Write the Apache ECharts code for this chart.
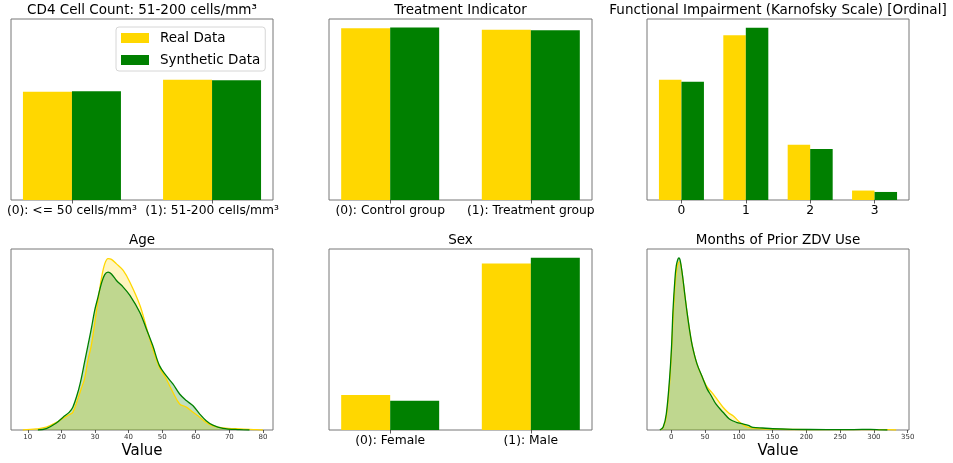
<!DOCTYPE html>
<html>
<head>
<meta charset="utf-8">
<script src="https://cdn.jsdelivr.net/npm/echarts@6/dist/echarts.min.js"></script>
<style>
  html, body { margin: 0; padding: 0; background: #fff; }
  #chart { width: 953px; height: 463px; }
</style>
</head>
<body>
<div id="chart"></div>
<script>
// Category labels
const cd4Labels = ['(0): <= 50 cells/mm³', '(1): 51-200 cells/mm³'];
const treatLabels = ['(0): Control group', '(1): Treatment group'];
const karnofskyLabels = ['0', '1', '2', '3'];
const sexLabels = ['(0): Female', '(1): Male'];

// Category proportions, real vs synthetic
const cd4Real = [0.474, 0.526];
const cd4Synth = [0.476, 0.524];
const treatReal = [0.502, 0.498];
const treatSynth = [0.504, 0.496];
const karnofskyReal = [0.344, 0.471, 0.158, 0.027];
const karnofskySynth = [0.338, 0.493, 0.146, 0.023];
const sexReal = [0.174, 0.826];
const sexSynth = [0.145, 0.855];

// Age density estimates: [age, density]
const ageReal = [
  [8.5, 0], [12.5, 0.0003], [15.5, 0.0008], [18.5, 0.0022], [20.5, 0.0034],
  [22.3, 0.0044], [23.4, 0.0051], [24.9, 0.0090], [25.9, 0.0119], [26.9, 0.0148],
  [27.9, 0.0201], [28.9, 0.0244], [29.9, 0.0307], [30.9, 0.0374], [31.9, 0.0437],
  [32.9, 0.0480], [33.9, 0.0495], [34.9, 0.0493], [36.4, 0.0480], [38.4, 0.0461],
  [40.4, 0.0427], [43.4, 0.0360], [45.3, 0.0297], [47.2, 0.0234], [49.2, 0.0181],
  [51.2, 0.0148], [53.2, 0.0109], [55.2, 0.0075], [57.2, 0.0066], [59.2, 0.0051],
  [61.2, 0.0037], [63.1, 0.0022], [65.1, 0.0012], [68.1, 0.0006], [73.1, 0.0003],
  [78.1, 0.0001], [80, 0]
];
const ageSynth = [
  [13, 0], [15.5, 0.0004], [18.5, 0.0020], [20.5, 0.0037], [22.3, 0.0051],
  [23.4, 0.0066], [24.9, 0.0109], [25.9, 0.0148], [26.9, 0.0196], [27.9, 0.0244],
  [28.9, 0.0292], [29.9, 0.0345], [30.9, 0.0384], [31.9, 0.0423], [32.9, 0.0449],
  [33.9, 0.0456], [34.9, 0.0451], [36.4, 0.0432], [38.4, 0.0413], [40.4, 0.0389],
  [43.4, 0.0339], [45.3, 0.0292], [47.2, 0.0244], [49.2, 0.0186], [51.2, 0.0157],
  [53.2, 0.0133], [55.2, 0.0104], [57.2, 0.0085], [59.2, 0.0070], [61.2, 0.0046],
  [63.1, 0.0027], [65.1, 0.0014], [68.1, 0.0005], [73.1, 0.0001], [76, 0]
];

// Months of prior ZDV use density estimates: [months, density]
const zdvReal = [
  [-16, 0], [-12, 0.00035], [-7.4, 0.00184], [-2.5, 0.00666], [0.5, 0.01133],
  [2.5, 0.01558], [5.4, 0.02025], [7.4, 0.02223], [9.5, 0.02336], [12.3, 0.02379],
  [14, 0.02336], [17.2, 0.02124], [20, 0.01912], [23.2, 0.01671], [27, 0.01416],
  [31.1, 0.01189], [38, 0.00935], [47, 0.00722], [53, 0.00609], [61.8, 0.00510],
  [70, 0.00404], [76.6, 0.00321], [85, 0.00241], [91.4, 0.00202], [101.3, 0.00109],
  [111, 0.00047], [121, 0.00028], [135, 0.00018], [150, 0.00011], [180, 0.00007],
  [230, 0.00004], [280, 0.00004], [300, 0.00006], [320, 0.00006], [333, 0]
];
const zdvSynth = [
  [-17, 0], [-12, 0.00042], [-7.4, 0.00227], [-2.5, 0.00736], [0.4, 0.01189],
  [2.4, 0.01671], [5.4, 0.02138], [7.4, 0.02322], [9.5, 0.02407], [11.3, 0.02431],
  [13.5, 0.02379], [17.2, 0.02138], [20, 0.01912], [23.2, 0.01671], [27, 0.01416],
  [31.1, 0.01189], [38, 0.00935], [47, 0.00722], [53, 0.00581], [59.3, 0.00481],
  [66, 0.00368], [76.6, 0.00251], [86, 0.00156], [96.4, 0.00109], [106, 0.00085],
  [114, 0.00064], [121, 0.00038], [135, 0.00028], [150, 0.00018], [180, 0.00010],
  [230, 0.00006], [270, 0.00006], [295, 0.00010], [310, 0.00003], [320, 0]
];

const ageTicks = [10, 20, 30, 40, 50, 60, 70, 80];
const zdvTicks = [0, 50, 100, 150, 200, 250, 300, 350];

const REAL = '#FFD700';
const SYNTH = '#008000';
const FONT = 'DejaVu Sans';

const chart = echarts.init(document.getElementById('chart'), null, { renderer: 'canvas' });

// Panel frames
const frames = [
  { left: 11, top: 19, width: 262, height: 181 },
  { left: 329, top: 19, width: 263, height: 181 },
  { left: 647, top: 19, width: 262, height: 181 },
  { left: 11, top: 249, width: 262, height: 181 },
  { left: 329, top: 249, width: 263, height: 181 },
  { left: 647, top: 249, width: 262, height: 181 }
];

const titles = [
  'CD4 Cell Count: 51-200 cells/mm³',
  'Treatment Indicator',
  'Functional Impairment (Karnofsky Scale) [Ordinal]',
  'Age',
  'Sex',
  'Months of Prior ZDV Use'
];

function indexPairs(values) {
  return values.map((v, i) => [i, v]);
}

function categoryAxis(gridIndex, labels, min, max) {
  return {
    type: 'value', gridIndex, min, max,
    splitLine: { show: false },
    axisLine: { show: false },
    axisTick: { show: true, length: 3.5, customValues: labels.map((_, i) => i),
                lineStyle: { color: '#333', width: 0.8 } },
    axisLabel: { show: true, customValues: labels.map((_, i) => i),
                 formatter: v => labels[Math.round(v)],
                 fontFamily: FONT, fontSize: 12.3, color: '#000', margin: 5 }
  };
}

function densityAxis(gridIndex, ticks, min, max) {
  return {
    type: 'value', gridIndex, min, max,
    splitLine: { show: false },
    axisLine: { show: false },
    axisTick: { show: true, length: 3, customValues: ticks,
                lineStyle: { color: '#333', width: 0.8 } },
    axisLabel: { show: true, customValues: ticks,
                 fontFamily: FONT, fontSize: 7, color: '#333', margin: 4 },
    name: 'Value', nameLocation: 'middle', nameGap: 14,
    nameTextStyle: { fontFamily: FONT, fontSize: 15, color: '#000' }
  };
}

function hiddenY(gridIndex, max) {
  return {
    type: 'value', gridIndex, min: 0, max,
    show: true,
    splitLine: { show: false }, axisLine: { show: false },
    axisTick: { show: false }, axisLabel: { show: false }
  };
}

function barSeries(name, color, axis, values, width) {
  return {
    name, type: 'bar', xAxisIndex: axis, yAxisIndex: axis,
    data: indexPairs(values), barWidth: width, barGap: '0%',
    itemStyle: { color }, emphasis: { disabled: true }
  };
}

function densitySeries(name, color, axis, points) {
  const rgb = color === REAL ? '255,215,0' : '0,128,0';
  return {
    name, type: 'line', xAxisIndex: axis, yAxisIndex: axis,
    data: points, smooth: 0.35, showSymbol: false,
    lineStyle: { color, width: 1.3 },
    areaStyle: { color: `rgba(${rgb},0.25)`, opacity: 1, origin: 'start' },
    emphasis: { disabled: true }
  };
}

const option = {
  backgroundColor: '#fff',
  animation: false,
  title: titles.map((text, i) => ({
    text,
    left: frames[i].left + frames[i].width / 2,
    top: frames[i].top - 16,
    textAlign: 'center',
    padding: 0,
    textStyle: { fontFamily: FONT, fontSize: 13.5, fontWeight: 'normal', color: '#000' }
  })),
  legend: {
    data: ['Real Data', 'Synthetic Data'],
    orient: 'vertical',
    left: 116, top: 27,
    icon: 'rect', itemWidth: 28, itemHeight: 10, itemGap: 8,
    padding: [4, 5, 4, 5],
    backgroundColor: 'rgba(255,255,255,0.8)',
    borderColor: '#d6d6d6', borderWidth: 1, borderRadius: 3,
    textStyle: { fontFamily: FONT, fontSize: 13.5, color: '#000', padding: [0, 0, 0, 6] },
    selectedMode: false
  },
  grid: frames.map(f => ({
    left: f.left, top: f.top, width: f.width, height: f.height,
    show: true, borderColor: '#777', borderWidth: 1, backgroundColor: 'transparent'
  })),
  xAxis: [
    categoryAxis(0, cd4Labels, -0.435, 1.435),
    categoryAxis(1, treatLabels, -0.435, 1.435),
    categoryAxis(2, karnofskyLabels, -0.535, 3.535),
    densityAxis(3, ageTicks, 5, 83),
    categoryAxis(4, sexLabels, -0.435, 1.435),
    densityAxis(5, zdvTicks, -36, 352)
  ],
  yAxis: [
    hiddenY(0, 0.792),
    hiddenY(1, 0.5292),
    hiddenY(2, 0.5177),
    hiddenY(3, 0.0523),
    hiddenY(4, 0.8978),
    hiddenY(5, 0.02558)
  ],
  series: [
    barSeries('Real Data', REAL, 0, cd4Real, 49),
    barSeries('Synthetic Data', SYNTH, 0, cd4Synth, 49),
    barSeries('Real Data', REAL, 1, treatReal, 49),
    barSeries('Synthetic Data', SYNTH, 1, treatSynth, 49),
    barSeries('Real Data', REAL, 2, karnofskyReal, 22.5),
    barSeries('Synthetic Data', SYNTH, 2, karnofskySynth, 22.5),
    densitySeries('Real Data', REAL, 3, ageReal),
    densitySeries('Synthetic Data', SYNTH, 3, ageSynth),
    barSeries('Real Data', REAL, 4, sexReal, 49),
    barSeries('Synthetic Data', SYNTH, 4, sexSynth, 49),
    densitySeries('Real Data', REAL, 5, zdvReal),
    densitySeries('Synthetic Data', SYNTH, 5, zdvSynth)
  ]
};

chart.setOption(option);
</script>
</body>
</html>
